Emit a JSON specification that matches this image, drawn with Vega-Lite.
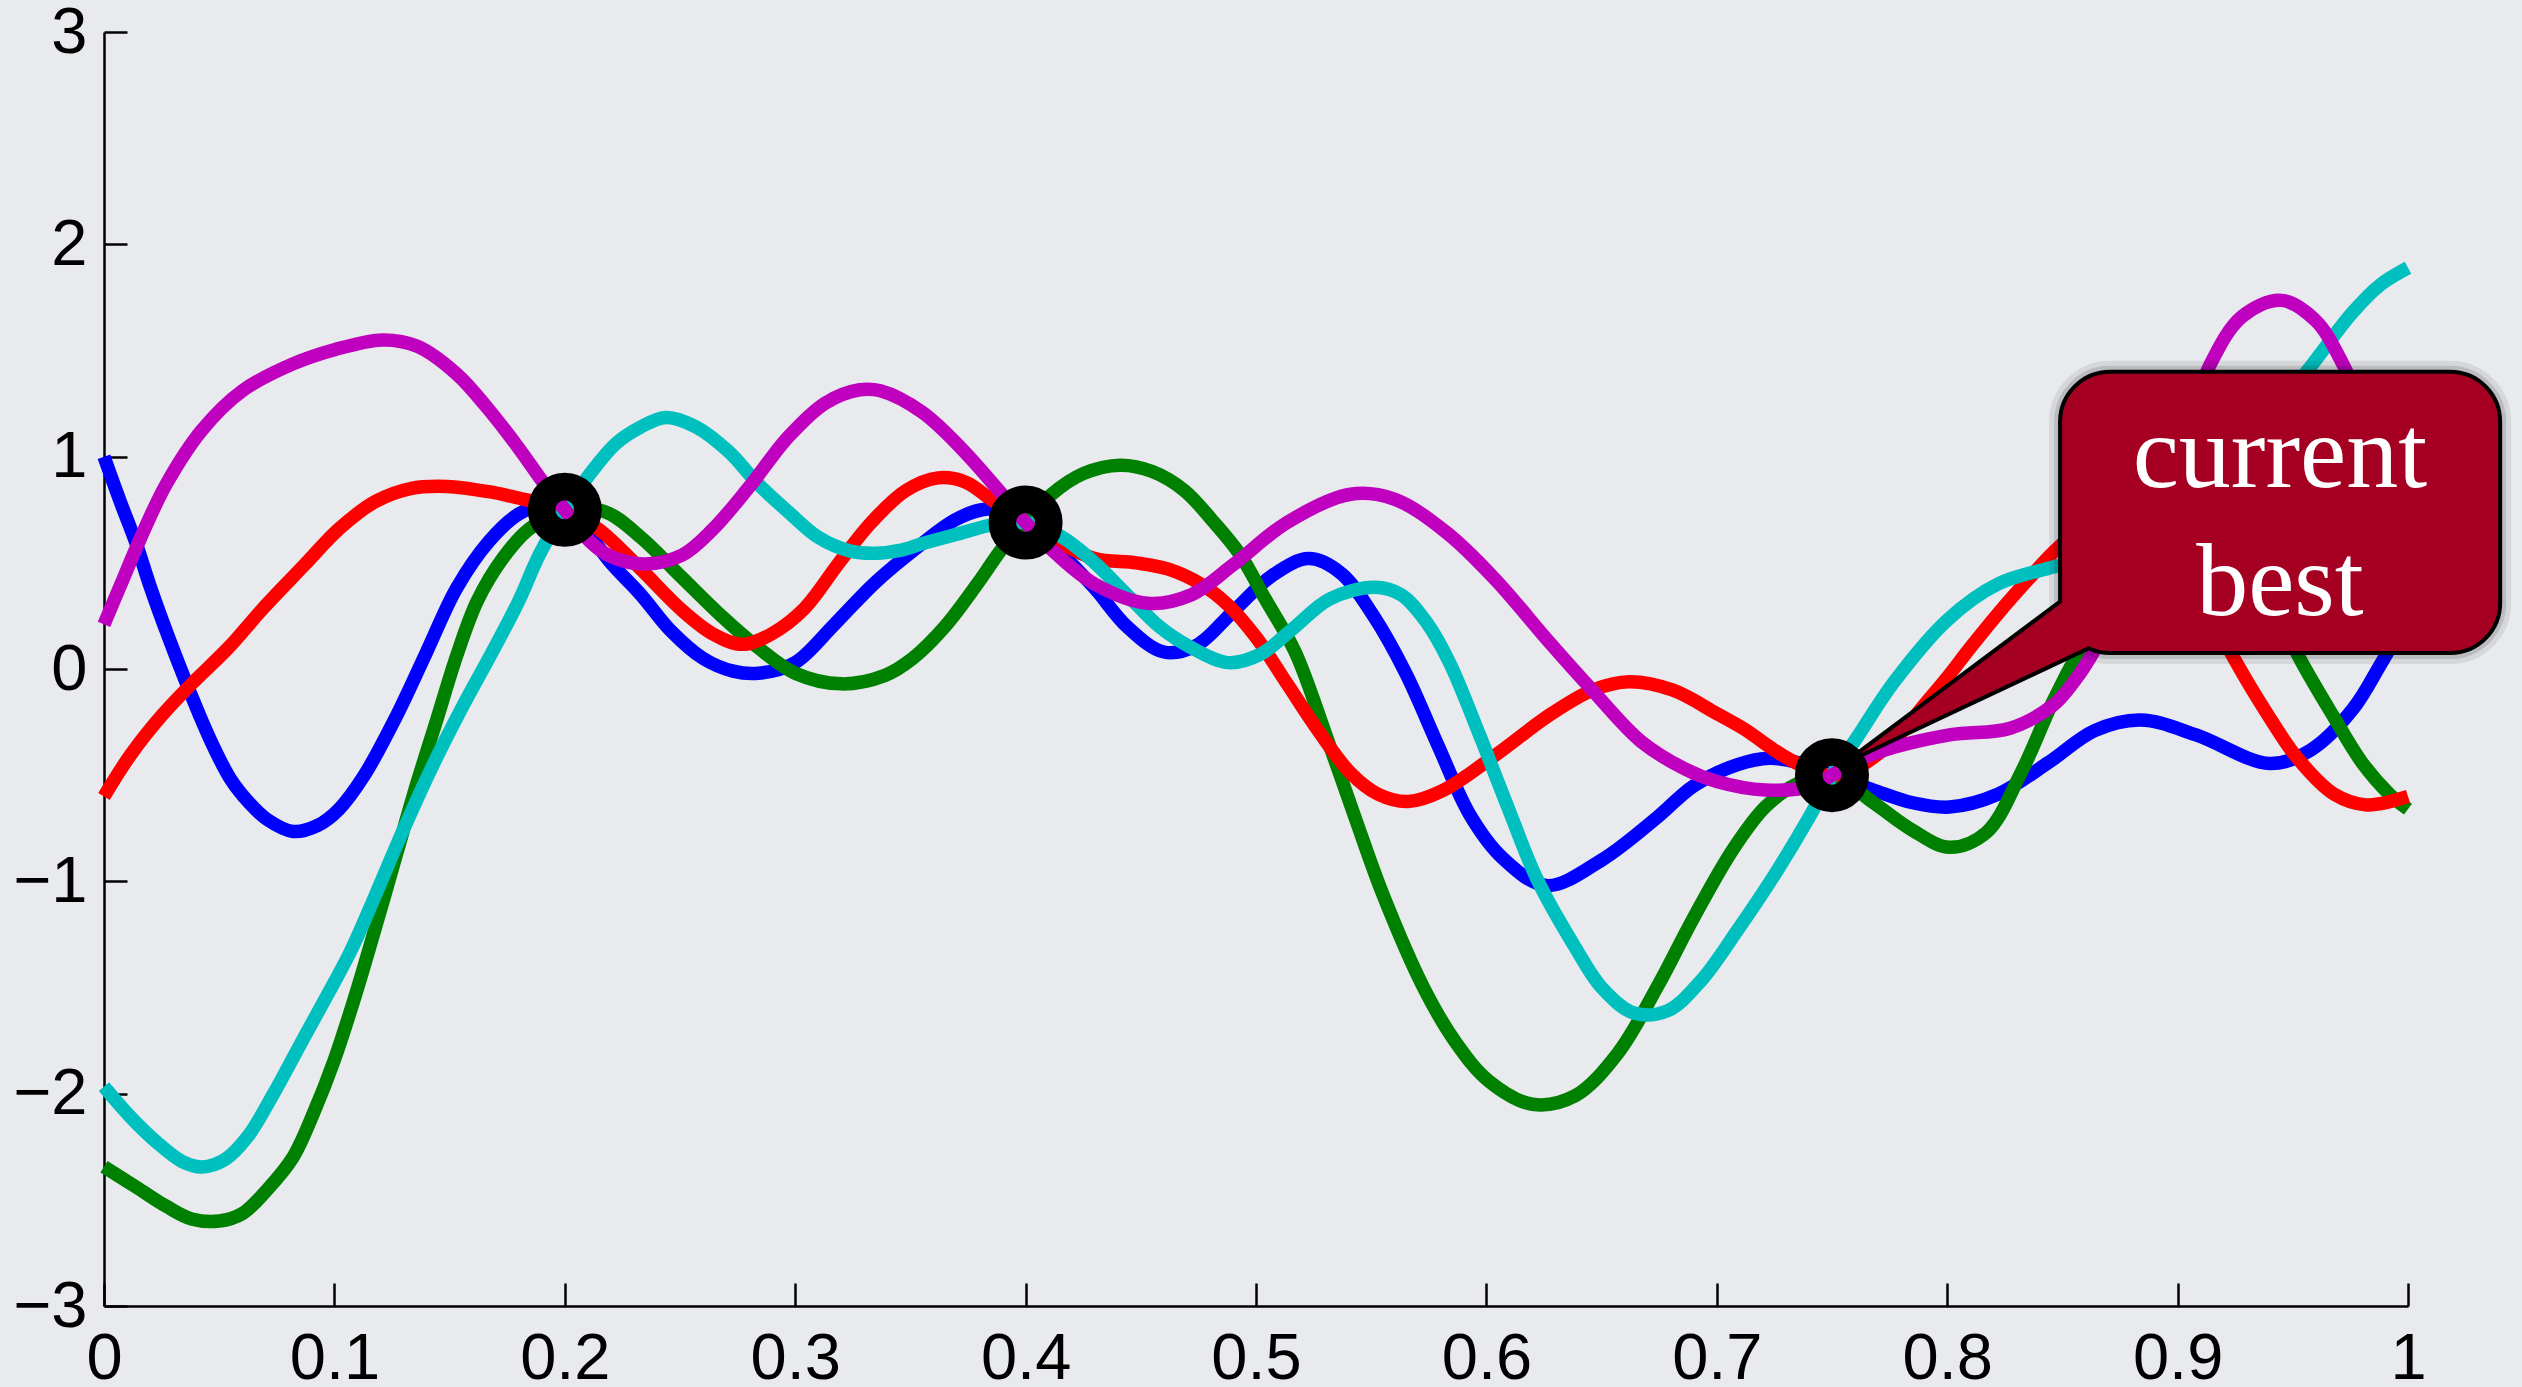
{
  "$schema": "https://vega.github.io/schema/vega-lite/v6.json",
  "width": 2304,
  "height": 1274,
  "autosize": {"type": "none"},
  "padding": {"left": 104, "top": 32, "right": 114, "bottom": 81},
  "background": "#e8eaed",
  "config": {"view": {"stroke": null}},
  "datasets": {
    "curves": [
      {"s":"s1","x":0,"y":1.0},{"s":"s1","x":0.007,"y":0.79},{"s":"s1","x":0.014,"y":0.59},{"s":"s1","x":0.02,"y":0.39},{"s":"s1","x":0.028,"y":0.15},{"s":"s1","x":0.037,"y":-0.10},{"s":"s1","x":0.046,"y":-0.33},{"s":"s1","x":0.055,"y":-0.52},{"s":"s1","x":0.063,"y":-0.63},{"s":"s1","x":0.071,"y":-0.71},{"s":"s1","x":0.082,"y":-0.765},{"s":"s1","x":0.093,"y":-0.735},{"s":"s1","x":0.102,"y":-0.66},{"s":"s1","x":0.113,"y":-0.50},{"s":"s1","x":0.127,"y":-0.22},{"s":"s1","x":0.14,"y":0.08},{"s":"s1","x":0.153,"y":0.38},{"s":"s1","x":0.167,"y":0.60},{"s":"s1","x":0.18,"y":0.73},{"s":"s1","x":0.19,"y":0.77},{"s":"s1","x":0.2,"y":0.75},{"s":"s1","x":0.21,"y":0.64},{"s":"s1","x":0.22,"y":0.50},{"s":"s1","x":0.233,"y":0.35},{"s":"s1","x":0.246,"y":0.18},{"s":"s1","x":0.26,"y":0.05},{"s":"s1","x":0.273,"y":-0.01},{"s":"s1","x":0.284,"y":-0.02},{"s":"s1","x":0.3,"y":0.03},{"s":"s1","x":0.317,"y":0.21},{"s":"s1","x":0.335,"y":0.41},{"s":"s1","x":0.355,"y":0.59},{"s":"s1","x":0.369,"y":0.70},{"s":"s1","x":0.381,"y":0.75},{"s":"s1","x":0.39,"y":0.75},{"s":"s1","x":0.4,"y":0.69},{"s":"s1","x":0.414,"y":0.56},{"s":"s1","x":0.43,"y":0.38},{"s":"s1","x":0.444,"y":0.20},{"s":"s1","x":0.46,"y":0.08},{"s":"s1","x":0.474,"y":0.11},{"s":"s1","x":0.49,"y":0.27},{"s":"s1","x":0.507,"y":0.44},{"s":"s1","x":0.523,"y":0.52},{"s":"s1","x":0.537,"y":0.45},{"s":"s1","x":0.551,"y":0.25},{"s":"s1","x":0.565,"y":-0.02},{"s":"s1","x":0.579,"y":-0.36},{"s":"s1","x":0.593,"y":-0.69},{"s":"s1","x":0.607,"y":-0.89},{"s":"s1","x":0.626,"y":-1.02},{"s":"s1","x":0.65,"y":-0.90},{"s":"s1","x":0.674,"y":-0.70},{"s":"s1","x":0.69,"y":-0.55},{"s":"s1","x":0.709,"y":-0.45},{"s":"s1","x":0.723,"y":-0.42},{"s":"s1","x":0.735,"y":-0.44},{"s":"s1","x":0.75,"y":-0.50},{"s":"s1","x":0.768,"y":-0.57},{"s":"s1","x":0.785,"y":-0.63},{"s":"s1","x":0.801,"y":-0.65},{"s":"s1","x":0.822,"y":-0.59},{"s":"s1","x":0.844,"y":-0.44},{"s":"s1","x":0.864,"y":-0.29},{"s":"s1","x":0.884,"y":-0.24},{"s":"s1","x":0.908,"y":-0.31},{"s":"s1","x":0.94,"y":-0.445},{"s":"s1","x":0.958,"y":-0.38},{"s":"s1","x":0.976,"y":-0.19},{"s":"s1","x":0.988,"y":0.02},{"s":"s1","x":1.0,"y":0.25},
      {"s":"s2","x":0,"y":-2.344},{"s":"s2","x":0.014,"y":-2.44},{"s":"s2","x":0.027,"y":-2.53},{"s":"s2","x":0.038,"y":-2.59},{"s":"s2","x":0.05,"y":-2.60},{"s":"s2","x":0.06,"y":-2.565},{"s":"s2","x":0.071,"y":-2.45},{"s":"s2","x":0.082,"y":-2.30},{"s":"s2","x":0.091,"y":-2.09},{"s":"s2","x":0.1,"y":-1.84},{"s":"s2","x":0.109,"y":-1.54},{"s":"s2","x":0.118,"y":-1.21},{"s":"s2","x":0.127,"y":-0.87},{"s":"s2","x":0.1355,"y":-0.55},{"s":"s2","x":0.1444,"y":-0.24},{"s":"s2","x":0.1533,"y":0.07},{"s":"s2","x":0.162,"y":0.32},{"s":"s2","x":0.173,"y":0.52},{"s":"s2","x":0.184,"y":0.655},{"s":"s2","x":0.2,"y":0.75},{"s":"s2","x":0.2175,"y":0.74},{"s":"s2","x":0.233,"y":0.62},{"s":"s2","x":0.25,"y":0.44},{"s":"s2","x":0.268,"y":0.25},{"s":"s2","x":0.284,"y":0.10},{"s":"s2","x":0.30,"y":-0.02},{"s":"s2","x":0.32,"y":-0.07},{"s":"s2","x":0.339,"y":-0.03},{"s":"s2","x":0.351,"y":0.05},{"s":"s2","x":0.365,"y":0.20},{"s":"s2","x":0.379,"y":0.40},{"s":"s2","x":0.39,"y":0.57},{"s":"s2","x":0.4,"y":0.69},{"s":"s2","x":0.411,"y":0.82},{"s":"s2","x":0.425,"y":0.92},{"s":"s2","x":0.441,"y":0.96},{"s":"s2","x":0.455,"y":0.93},{"s":"s2","x":0.469,"y":0.84},{"s":"s2","x":0.481,"y":0.70},{"s":"s2","x":0.493,"y":0.54},{"s":"s2","x":0.504,"y":0.33},{"s":"s2","x":0.517,"y":0.08},{"s":"s2","x":0.53,"y":-0.30},{"s":"s2","x":0.543,"y":-0.70},{"s":"s2","x":0.555,"y":-1.06},{"s":"s2","x":0.5727,"y":-1.50},{"s":"s2","x":0.5868,"y":-1.76},{"s":"s2","x":0.601,"y":-1.94},{"s":"s2","x":0.62,"y":-2.05},{"s":"s2","x":0.6385,"y":-2.01},{"s":"s2","x":0.657,"y":-1.81},{"s":"s2","x":0.674,"y":-1.50},{"s":"s2","x":0.69,"y":-1.17},{"s":"s2","x":0.707,"y":-0.85},{"s":"s2","x":0.721,"y":-0.65},{"s":"s2","x":0.735,"y":-0.54},{"s":"s2","x":0.75,"y":-0.50},{"s":"s2","x":0.768,"y":-0.63},{"s":"s2","x":0.785,"y":-0.76},{"s":"s2","x":0.801,"y":-0.84},{"s":"s2","x":0.817,"y":-0.77},{"s":"s2","x":0.832,"y":-0.49},{"s":"s2","x":0.846,"y":-0.15},{"s":"s2","x":0.858,"y":0.10},{"s":"s2","x":0.88,"y":0.50},{"s":"s2","x":0.9,"y":0.72},{"s":"s2","x":0.92,"y":0.65},{"s":"s2","x":0.94,"y":0.35},{"s":"s2","x":0.952,"y":0.07},{"s":"s2","x":0.968,"y":-0.23},{"s":"s2","x":0.98,"y":-0.44},{"s":"s2","x":0.992,"y":-0.59},{"s":"s2","x":1.0,"y":-0.66},
      {"s":"s3","x":0,"y":-0.60},{"s":"s3","x":0.0115,"y":-0.405},{"s":"s3","x":0.025,"y":-0.22},{"s":"s3","x":0.038,"y":-0.07},{"s":"s3","x":0.054,"y":0.10},{"s":"s3","x":0.069,"y":0.285},{"s":"s3","x":0.087,"y":0.49},{"s":"s3","x":0.102,"y":0.66},{"s":"s3","x":0.118,"y":0.79},{"s":"s3","x":0.133,"y":0.85},{"s":"s3","x":0.149,"y":0.86},{"s":"s3","x":0.167,"y":0.835},{"s":"s3","x":0.182,"y":0.80},{"s":"s3","x":0.2,"y":0.75},{"s":"s3","x":0.215,"y":0.655},{"s":"s3","x":0.233,"y":0.47},{"s":"s3","x":0.25,"y":0.285},{"s":"s3","x":0.264,"y":0.167},{"s":"s3","x":0.277,"y":0.116},{"s":"s3","x":0.29,"y":0.167},{"s":"s3","x":0.304,"y":0.285},{"s":"s3","x":0.319,"y":0.50},{"s":"s3","x":0.333,"y":0.69},{"s":"s3","x":0.348,"y":0.84},{"s":"s3","x":0.362,"y":0.90},{"s":"s3","x":0.374,"y":0.88},{"s":"s3","x":0.386,"y":0.79},{"s":"s3","x":0.4,"y":0.69},{"s":"s3","x":0.414,"y":0.60},{"s":"s3","x":0.43,"y":0.52},{"s":"s3","x":0.448,"y":0.50},{"s":"s3","x":0.462,"y":0.47},{"s":"s3","x":0.476,"y":0.40},{"s":"s3","x":0.488,"y":0.30},{"s":"s3","x":0.50,"y":0.15},{"s":"s3","x":0.5135,"y":-0.07},{"s":"s3","x":0.527,"y":-0.29},{"s":"s3","x":0.541,"y":-0.49},{"s":"s3","x":0.553,"y":-0.59},{"s":"s3","x":0.566,"y":-0.624},{"s":"s3","x":0.581,"y":-0.573},{"s":"s3","x":0.604,"y":-0.405},{"s":"s3","x":0.627,"y":-0.22},{"s":"s3","x":0.646,"y":-0.10},{"s":"s3","x":0.662,"y":-0.06},{"s":"s3","x":0.681,"y":-0.10},{"s":"s3","x":0.70,"y":-0.21},{"s":"s3","x":0.713,"y":-0.29},{"s":"s3","x":0.722,"y":-0.36},{"s":"s3","x":0.734,"y":-0.44},{"s":"s3","x":0.75,"y":-0.50},{"s":"s3","x":0.76,"y":-0.47},{"s":"s3","x":0.77,"y":-0.40},{"s":"s3","x":0.78,"y":-0.30},{"s":"s3","x":0.79,"y":-0.17},{"s":"s3","x":0.80,"y":-0.04},{"s":"s3","x":0.81,"y":0.10},{"s":"s3","x":0.822,"y":0.26},{"s":"s3","x":0.835,"y":0.42},{"s":"s3","x":0.848,"y":0.57},{"s":"s3","x":0.87,"y":0.75},{"s":"s3","x":0.89,"y":0.70},{"s":"s3","x":0.905,"y":0.45},{"s":"s3","x":0.915,"y":0.25},{"s":"s3","x":0.925,"y":0.04},{"s":"s3","x":0.94,"y":-0.23},{"s":"s3","x":0.952,"y":-0.42},{"s":"s3","x":0.968,"y":-0.59},{"s":"s3","x":0.982,"y":-0.64},{"s":"s3","x":1.0,"y":-0.60},
      {"s":"s4","x":0,"y":-1.967},{"s":"s4","x":0.0115,"y":-2.11},{"s":"s4","x":0.023,"y":-2.23},{"s":"s4","x":0.034,"y":-2.32},{"s":"s4","x":0.0425,"y":-2.345},{"s":"s4","x":0.0525,"y":-2.31},{"s":"s4","x":0.0625,"y":-2.20},{"s":"s4","x":0.0736,"y":-2.00},{"s":"s4","x":0.0846,"y":-1.78},{"s":"s4","x":0.0957,"y":-1.56},{"s":"s4","x":0.107,"y":-1.33},{"s":"s4","x":0.118,"y":-1.06},{"s":"s4","x":0.129,"y":-0.78},{"s":"s4","x":0.142,"y":-0.47},{"s":"s4","x":0.1555,"y":-0.18},{"s":"s4","x":0.169,"y":0.09},{"s":"s4","x":0.18,"y":0.32},{"s":"s4","x":0.189,"y":0.54},{"s":"s4","x":0.2,"y":0.75},{"s":"s4","x":0.211,"y":0.92},{"s":"s4","x":0.222,"y":1.06},{"s":"s4","x":0.233,"y":1.14},{"s":"s4","x":0.244,"y":1.185},{"s":"s4","x":0.257,"y":1.14},{"s":"s4","x":0.271,"y":1.025},{"s":"s4","x":0.284,"y":0.87},{"s":"s4","x":0.297,"y":0.74},{"s":"s4","x":0.31,"y":0.62},{"s":"s4","x":0.324,"y":0.555},{"s":"s4","x":0.335,"y":0.545},{"s":"s4","x":0.346,"y":0.56},{"s":"s4","x":0.355,"y":0.59},{"s":"s4","x":0.372,"y":0.64},{"s":"s4","x":0.386,"y":0.68},{"s":"s4","x":0.4,"y":0.69},{"s":"s4","x":0.416,"y":0.62},{"s":"s4","x":0.43,"y":0.50},{"s":"s4","x":0.444,"y":0.35},{"s":"s4","x":0.458,"y":0.20},{"s":"s4","x":0.472,"y":0.10},{"s":"s4","x":0.488,"y":0.03},{"s":"s4","x":0.502,"y":0.07},{"s":"s4","x":0.516,"y":0.19},{"s":"s4","x":0.532,"y":0.33},{"s":"s4","x":0.5515,"y":0.385},{"s":"s4","x":0.563,"y":0.35},{"s":"s4","x":0.574,"y":0.22},{"s":"s4","x":0.584,"y":0.03},{"s":"s4","x":0.597,"y":-0.31},{"s":"s4","x":0.61,"y":-0.67},{"s":"s4","x":0.622,"y":-0.99},{"s":"s4","x":0.6385,"y":-1.31},{"s":"s4","x":0.65,"y":-1.50},{"s":"s4","x":0.664,"y":-1.62},{"s":"s4","x":0.6785,"y":-1.61},{"s":"s4","x":0.693,"y":-1.47},{"s":"s4","x":0.709,"y":-1.23},{"s":"s4","x":0.7256,"y":-0.96},{"s":"s4","x":0.74,"y":-0.70},{"s":"s4","x":0.75,"y":-0.50},{"s":"s4","x":0.761,"y":-0.32},{"s":"s4","x":0.777,"y":-0.06},{"s":"s4","x":0.80,"y":0.23},{"s":"s4","x":0.822,"y":0.40},{"s":"s4","x":0.846,"y":0.48},{"s":"s4","x":0.87,"y":0.55},{"s":"s4","x":0.9,"y":0.75},{"s":"s4","x":0.93,"y":1.05},{"s":"s4","x":0.956,"y":1.40},{"s":"s4","x":0.976,"y":1.68},{"s":"s4","x":0.988,"y":1.81},{"s":"s4","x":1.0,"y":1.89},
      {"s":"s5","x":0,"y":0.21},{"s":"s5","x":0.007,"y":0.39},{"s":"s5","x":0.016,"y":0.62},{"s":"s5","x":0.027,"y":0.87},{"s":"s5","x":0.0425,"y":1.125},{"s":"s5","x":0.06,"y":1.31},{"s":"s5","x":0.082,"y":1.437},{"s":"s5","x":0.1,"y":1.504},{"s":"s5","x":0.121,"y":1.55},{"s":"s5","x":0.136,"y":1.52},{"s":"s5","x":0.153,"y":1.39},{"s":"s5","x":0.1666,"y":1.227},{"s":"s5","x":0.18,"y":1.04},{"s":"s5","x":0.191,"y":0.873},{"s":"s5","x":0.2,"y":0.75},{"s":"s5","x":0.211,"y":0.60},{"s":"s5","x":0.22,"y":0.53},{"s":"s5","x":0.235,"y":0.495},{"s":"s5","x":0.251,"y":0.537},{"s":"s5","x":0.264,"y":0.655},{"s":"s5","x":0.28,"y":0.857},{"s":"s5","x":0.297,"y":1.093},{"s":"s5","x":0.313,"y":1.252},{"s":"s5","x":0.328,"y":1.315},{"s":"s5","x":0.337,"y":1.31},{"s":"s5","x":0.355,"y":1.21},{"s":"s5","x":0.372,"y":1.04},{"s":"s5","x":0.39,"y":0.82},{"s":"s5","x":0.4,"y":0.69},{"s":"s5","x":0.4135,"y":0.54},{"s":"s5","x":0.43,"y":0.40},{"s":"s5","x":0.453,"y":0.31},{"s":"s5","x":0.472,"y":0.35},{"s":"s5","x":0.49,"y":0.49},{"s":"s5","x":0.5135,"y":0.69},{"s":"s5","x":0.541,"y":0.823},{"s":"s5","x":0.56,"y":0.80},{"s":"s5","x":0.583,"y":0.64},{"s":"s5","x":0.604,"y":0.42},{"s":"s5","x":0.627,"y":0.13},{"s":"s5","x":0.646,"y":-0.10},{"s":"s5","x":0.667,"y":-0.34},{"s":"s5","x":0.686,"y":-0.47},{"s":"s5","x":0.70,"y":-0.53},{"s":"s5","x":0.721,"y":-0.57},{"s":"s5","x":0.742,"y":-0.55},{"s":"s5","x":0.75,"y":-0.50},{"s":"s5","x":0.768,"y":-0.40},{"s":"s5","x":0.801,"y":-0.31},{"s":"s5","x":0.827,"y":-0.28},{"s":"s5","x":0.846,"y":-0.17},{"s":"s5","x":0.855,"y":-0.06},{"s":"s5","x":0.864,"y":0.09},{"s":"s5","x":0.88,"y":0.45},{"s":"s5","x":0.9,"y":1.0},{"s":"s5","x":0.914,"y":1.43},{"s":"s5","x":0.928,"y":1.66},{"s":"s5","x":0.945,"y":1.736},{"s":"s5","x":0.96,"y":1.64},{"s":"s5","x":0.972,"y":1.43},{"s":"s5","x":0.985,"y":1.1},{"s":"s5","x":1.0,"y":0.8}
    ],
    "pts": [{"x":0.2,"y":0.75},{"x":0.4,"y":0.69},{"x":0.75,"y":-0.5}],
    "box": [{"x":0.849,"x2":1.04,"y":0.075,"y2":1.4}],
    "tail": [{"x":0.762,"y":-0.40,"y2":-0.40},{"x":0.861,"y":0.106,"y2":0.403}],
    "label": [{"x":0.9444,"y":0.857,"t":"current"},{"x":0.9444,"y":0.254,"t":"best"}]
  },
  "encoding": {
    "x": {
      "field": "x", "type": "quantitative",
      "scale": {"domain": [0, 1], "nice": false, "zero": false},
      "axis": {
        "title": null, "values": [0,0.1,0.2,0.3,0.4,0.5,0.6,0.7,0.8,0.9,1], "format": "~g",
        "grid": false, "labelFlush": false, "labelOverlap": false, "labelBound": false,
        "labelFont": "Liberation Sans", "labelFontSize": 65, "labelColor": "#000",
        "labelPadding": 44, "tickSize": -23, "tickWidth": 2.5, "tickColor": "#000",
        "domainColor": "#000", "domainWidth": 2.5
      }
    },
    "y": {
      "field": "y", "type": "quantitative",
      "scale": {"domain": [-3, 3], "nice": false, "zero": false},
      "axis": {
        "title": null, "values": [-3,-2,-1,0,1,2,3], "format": "~g",
        "grid": false, "labelFlush": false, "labelOverlap": false, "labelBound": false,
        "labelFont": "Liberation Sans", "labelFontSize": 65, "labelColor": "#000",
        "labelPadding": 40, "tickSize": -23, "tickWidth": 2.5, "tickColor": "#000",
        "domainColor": "#000", "domainWidth": 2.5
      }
    }
  },
  "layer": [
    {
      "data": {"name": "curves"},
      "mark": {"type": "line", "strokeWidth": 13.5, "interpolate": "catmull-rom"},
      "encoding": {
        "color": {"field": "s", "type": "nominal", "legend": null,
          "scale": {"domain": ["s1","s2","s3","s4","s5"], "range": ["#0000ff","#008000","#ff0000","#00bfbf","#bf00bf"]}}
      }
    },
    {
      "data": {"name": "box"},
      "mark": {"type": "rect", "fill": "transparent", "stroke": "#000", "strokeOpacity": 0.08, "strokeWidth": 22, "cornerRadius": 50},
      "encoding": {"x2": {"field": "x2"}, "y2": {"field": "y2"}}
    },
    {
      "data": {"name": "box"},
      "mark": {"type": "rect", "fill": "transparent", "stroke": "#000", "strokeOpacity": 0.12, "strokeWidth": 12, "cornerRadius": 50},
      "encoding": {"x2": {"field": "x2"}, "y2": {"field": "y2"}}
    },
    {
      "data": {"name": "tail"},
      "mark": {"type": "area", "orient": "vertical", "fill": "#a50021", "stroke": "#000", "strokeWidth": 8, "interpolate": "linear", "opacity": 1},
      "encoding": {"y2": {"field": "y2"}}
    },
    {
      "data": {"name": "box"},
      "mark": {"type": "rect", "fill": "#a50021", "stroke": "#000", "strokeWidth": 4, "cornerRadius": 50, "opacity": 1},
      "encoding": {"x2": {"field": "x2"}, "y2": {"field": "y2"}}
    },
    {
      "data": {"name": "tail"},
      "mark": {"type": "area", "orient": "vertical", "fill": "#a50021", "strokeWidth": 0, "interpolate": "linear", "opacity": 1},
      "encoding": {"y2": {"field": "y2"}}
    },
    {
      "data": {"name": "label"},
      "mark": {"type": "text", "font": "Liberation Serif", "fontSize": 104, "fill": "#ffffff", "align": "center", "baseline": "alphabetic"},
      "encoding": {"text": {"field": "t"}}
    },
    {
      "data": {"name": "pts"},
      "mark": {"type": "point", "shape": "circle", "filled": false, "stroke": "#000", "strokeWidth": 27.5, "size": 2162, "opacity": 1}
    }
  ]
}
